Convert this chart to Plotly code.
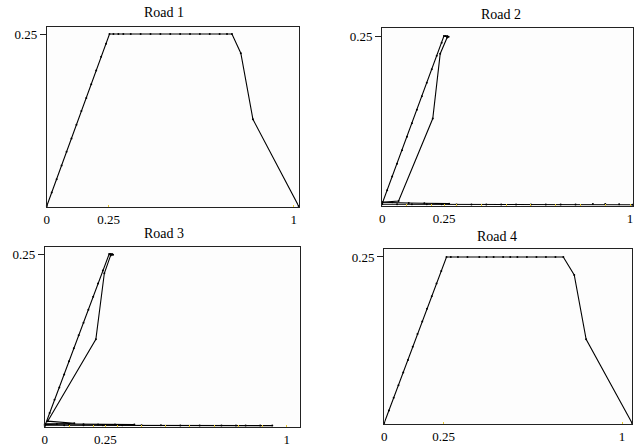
import plotly.graph_objects as go

W, H = 639, 447

# ---------------- data ----------------
titles = ["Road 1", "Road 2", "Road 3", "Road 4"]
x_tick_vals = [0, 0.25, 1]
x_tick_text = ["0", "0.25", "1"]
y_tick_vals = [0.25]
y_tick_text = ["0.25"]

# Road 1 (trapezoid)
r1_x = [0, 0.02, 0.04, 0.06, 0.08, 0.10, 0.12, 0.14, 0.16, 0.18, 0.20, 0.22, 0.24, 0.254,
        0.27, 0.29, 0.31, 0.34, 0.38, 0.42, 0.46, 0.50, 0.54, 0.58, 0.62, 0.66, 0.70, 0.73, 0.75,
        0.786, 0.835, 1.02]
r1_y = [0, 0.0197, 0.039, 0.059, 0.079, 0.098, 0.118, 0.138, 0.157, 0.177, 0.197, 0.217, 0.236, 0.25,
        0.25, 0.25, 0.25, 0.25, 0.25, 0.25, 0.25, 0.25, 0.25, 0.25, 0.25, 0.25, 0.25, 0.25, 0.25,
        0.222, 0.126, 0.0]

# Road 4 (trapezoid)
r4_x = [0, 0.02, 0.04, 0.06, 0.08, 0.10, 0.12, 0.14, 0.16, 0.18, 0.20, 0.22, 0.24, 0.262,
        0.28, 0.31, 0.35, 0.40, 0.43, 0.46, 0.50, 0.53, 0.56, 0.60, 0.64, 0.68, 0.72, 0.753,
        0.799, 0.849, 1.042]
r4_y = [0, 0.019, 0.038, 0.057, 0.076, 0.095, 0.115, 0.134, 0.153, 0.172, 0.191, 0.21, 0.229, 0.25,
        0.25, 0.25, 0.25, 0.25, 0.25, 0.25, 0.25, 0.25, 0.25, 0.25, 0.25, 0.25, 0.25, 0.25,
        0.223, 0.126, 0.0]

# Road 2 loop (ramp up, cluster, inner path down)
r2_loop_x = [0, 0.02, 0.04, 0.06, 0.08, 0.10, 0.12, 0.14, 0.16, 0.18, 0.20, 0.22, 0.24, 0.249,
             0.255, 0.262, 0.268, 0.262, 0.234, 0.204, 0.066, 0.0]
r2_loop_y = [0.002, 0.022, 0.042, 0.061, 0.081, 0.101, 0.121, 0.141, 0.161, 0.181, 0.201, 0.221, 0.240, 0.25,
             0.25, 0.25, 0.249, 0.248, 0.224, 0.128, 0.006, 0.004]
# Road 2 bottom strands
r2_low1_x = [0.0, 0.04, 0.107, 0.17, 0.27]
r2_low1_y = [0.004, 0.004, 0.003, 0.0025, 0.002]
r2_low2_x = [0.0, 0.06, 0.12, 0.18, 0.24, 0.30, 0.36, 0.42, 0.48, 0.54, 0.60, 0.66, 0.72, 0.78,
             0.85, 0.90, 0.956, 1.01]
r2_low2_y = [0.001, 0.001, 0.001, 0.001, 0.001, 0.0009, 0.0009, 0.0008, 0.0008, 0.0008, 0.0007,
             0.0007, 0.0007, 0.0006, 0.0015, 0.0015, 0.0012, 0.0004]

# Road 3 loop
r3_loop_x = [0, 0.02, 0.04, 0.06, 0.08, 0.10, 0.12, 0.14, 0.16, 0.18, 0.20, 0.22, 0.24, 0.266,
             0.272, 0.278, 0.282, 0.272, 0.246, 0.211, 0.012, 0.122, 0.0]
r3_loop_y = [0.0, 0.019, 0.038, 0.056, 0.075, 0.094, 0.113, 0.132, 0.150, 0.169, 0.188, 0.207, 0.226, 0.25,
             0.25, 0.25, 0.249, 0.248, 0.222, 0.126, 0.007, 0.004, 0.002]
r3_low1_x = [0.0, 0.05, 0.10, 0.16, 0.22, 0.29, 0.37]
r3_low1_y = [0.003, 0.003, 0.0025, 0.0025, 0.002, 0.002, 0.002]
r3_low2_x = [0.0, 0.08, 0.16, 0.24, 0.32, 0.40, 0.48, 0.56, 0.64, 0.73, 0.79, 0.83, 0.89, 0.94]
r3_low2_y = [0.001, 0.001, 0.001, 0.001, 0.001, 0.0009, 0.0009, 0.0008, 0.0008, 0.0008,
             0.0005, 0.0005, 0.0005, 0.0005]

# axis ranges per panel
x_ranges = [[0, 1.02], [0, 1.012], [0, 1.053], [0, 1.042]]
y_ranges = [[-0.0015, 0.2602], [-0.0015, 0.262], [-0.0015, 0.2602], [-0.0015, 0.262]]

# ---------------- layout geometry (pixels) ----------------
boxes = [(44, 297, 27, 207), (381, 633, 28, 206), (42, 298, 247, 427), (383, 632, 249, 424)]
title_pos = [(162, 13), (500, 14), (162, 233), (496, 236)]

fig = go.Figure()

line_style = dict(color="black", width=1.1)
mark_style = dict(color="black", size=2)

panels = [
    [(r1_x, r1_y)],
    [(r2_loop_x, r2_loop_y), (r2_low1_x, r2_low1_y), (r2_low2_x, r2_low2_y)],
    [(r3_loop_x, r3_loop_y), (r3_low1_x, r3_low1_y), (r3_low2_x, r3_low2_y)],
    [(r4_x, r4_y)],
]

for i, traces in enumerate(panels):
    suffix = "" if i == 0 else str(i + 1)
    for (xs, ys) in traces:
        fig.add_trace(go.Scatter(x=xs, y=ys, mode="lines+markers", line=line_style,
                                 marker=mark_style, xaxis="x" + suffix, yaxis="y" + suffix,
                                 showlegend=False, hoverinfo="skip", cliponaxis=False))

    x0, x1, yt, yb = boxes[i]
    xa = dict(domain=[x0 / W, x1 / W], range=x_ranges[i], anchor="y" + suffix,
              tickmode="array", tickvals=x_tick_vals, ticktext=x_tick_text,
              ticks="inside", ticklen=2, tickwidth=1, tickcolor="#e8c830",
              showgrid=False, zeroline=False, showline=True, linecolor="#222", linewidth=1,
              mirror=True, tickfont=dict(family="Liberation Serif", size=13, color="black"))
    if i in (1, 2):
        xa["minor"] = dict(dtick=0.1, ticks="inside", ticklen=2, tickcolor="#e8c830", showgrid=False)
    ya = dict(domain=[1 - yb / H, 1 - yt / H], range=y_ranges[i], anchor="x" + suffix,
              tickmode="array", tickvals=y_tick_vals, ticktext=y_tick_text,
              ticks="outside", ticklen=6, tickwidth=1, tickcolor="#222",
              showgrid=False, zeroline=False, showline=True, linecolor="#222", linewidth=1,
              mirror=True, tickfont=dict(family="Liberation Serif", size=13, color="black"))
    fig.update_layout(**{"xaxis" + suffix: xa, "yaxis" + suffix: ya})

    tx, ty = title_pos[i]
    fig.add_annotation(text=titles[i], x=tx / W, y=1 - ty / H, xref="paper", yref="paper",
                       showarrow=False, xanchor="center", yanchor="middle",
                       font=dict(family="Liberation Serif", size=14, color="black"))

fig.update_layout(width=W, height=H, margin=dict(l=0, r=0, t=0, b=0),
                  paper_bgcolor="white", plot_bgcolor="#fdfdfd")

fig.write_html("out.html")
